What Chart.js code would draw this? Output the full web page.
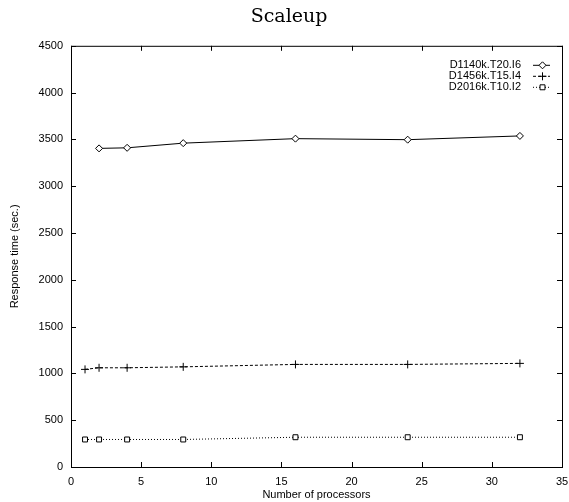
<!DOCTYPE html>
<html>
<head>
    <title>Scaleup</title>
    <script src="https://cdn.jsdelivr.net/npm/chart.js"></script>
    <style>
        body { margin: 0; background: #fff; }
        #wrap { width: 569px; height: 502px; }
    </style>
</head>
<body>
    <div id="wrap"><canvas id="scaleChart" width="569" height="502"></canvas></div>

    <script>
        // data
        const procs1 = [2, 4, 8, 16, 24, 32];
        const procs = [1, 2, 4, 8, 16, 24, 32];
        const d1140k = [3404, 3410, 3460, 3508, 3497, 3537];
        const d1456k = [1043, 1060, 1060, 1070, 1096, 1096, 1107];
        const d2016k = [294, 294, 294, 294, 318, 318, 318];
        const seriesNames = ['D1140k.T20.I6', 'D1456k.T15.I4', 'D2016k.T10.I2'];
        const xTicks = [0, 5, 10, 15, 20, 25, 30, 35];
        const yTicks = [0, 500, 1000, 1500, 2000, 2500, 3000, 3500, 4000, 4500];

        const pts = (xs, ys) => xs.map((x, i) => ({ x: x, y: ys[i] }));
        const sans = '"Liberation Sans", Arial, sans-serif';

        // gnuplot style box + inward ticks on all four sides
        const frame = {
            id: 'frame',
            afterDatasetsDraw(chart) {
                const { ctx, chartArea: a, scales } = chart;
                ctx.save();
                ctx.strokeStyle = '#000';
                ctx.lineWidth = 1;
                ctx.strokeRect(a.left + 0.5, a.top + 0.5, a.right - a.left, a.bottom - a.top);
                ctx.beginPath();
                xTicks.forEach(v => {
                    const px = Math.round(scales.x.getPixelForValue(v)) + 0.5;
                    ctx.moveTo(px, a.bottom); ctx.lineTo(px, a.bottom - 5);
                    ctx.moveTo(px, a.top); ctx.lineTo(px, a.top + 5);
                });
                yTicks.forEach(v => {
                    const py = Math.round(scales.y.getPixelForValue(v)) + 0.5;
                    ctx.moveTo(a.left, py); ctx.lineTo(a.left + 5, py);
                    ctx.moveTo(a.right, py); ctx.lineTo(a.right - 5, py);
                });
                ctx.stroke();
                ctx.restore();
            }
        };

        // legend: text on the left, line sample on the right
        const keyBox = {
            id: 'keyBox',
            afterDraw(chart) {
                const { ctx, chartArea: a } = chart;
                ctx.save();
                ctx.font = '11px ' + sans;
                ctx.textAlign = 'right';
                ctx.textBaseline = 'middle';
                chart.data.datasets.forEach((ds, i) => {
                    const y = a.top + 19 + i * 11;
                    ctx.fillStyle = '#000';
                    ctx.fillText(ds.label, a.right - 41, y);
                    const x0 = a.right - 29, x1 = a.right - 12;
                    ctx.strokeStyle = '#000';
                    ctx.lineWidth = 1;
                    ctx.setLineDash(ds.borderDash || []);
                    ctx.beginPath();
                    ctx.moveTo(x0, y + 0.5); ctx.lineTo(x1, y + 0.5);
                    ctx.stroke();
                    ctx.setLineDash([]);
                    ctx.fillStyle = '#fff';
                    Chart.helpers.drawPoint(ctx, {
                        pointStyle: ds.pointStyle, radius: ds.pointRadius, borderWidth: 1
                    }, Math.round((x0 + x1) / 2) + 0.5, y + 0.5);
                });
                ctx.restore();
            }
        };

        const common = {
            borderColor: '#000',
            borderWidth: 1,
            backgroundColor: '#fff',
            pointBorderColor: '#000',
            pointBackgroundColor: '#fff',
            pointBorderWidth: 1,
            showLine: true,
            tension: 0
        };

        new Chart(document.getElementById('scaleChart'), {
            type: 'scatter',
            data: {
                datasets: [
                    Object.assign({}, common, { label: seriesNames[0], data: pts(procs1, d1140k), pointStyle: 'rectRot', pointRadius: 3.5 }),
                    Object.assign({}, common, { label: seriesNames[1], data: pts(procs, d1456k), pointStyle: 'cross', pointRadius: 4, borderDash: [3, 2] }),
                    Object.assign({}, common, { label: seriesNames[2], data: pts(procs, d2016k), pointStyle: 'rect', pointRadius: 3.5, borderDash: [1, 2] })
                ]
            },
            plugins: [frame, keyBox],
            options: {
                responsive: false,
                animation: false,
                layout: { padding: { left: 16, right: 7, top: 0, bottom: 0 } },
                plugins: {
                    legend: { display: false },
                    tooltip: { enabled: false },
                    title: {
                        display: true,
                        text: 'Scaleup',
                        color: '#000',
                        font: { family: '"DejaVu Serif", "Liberation Serif", serif', size: 19, weight: 'normal' },
                        padding: { top: 6, bottom: 17 }
                    }
                },
                scales: {
                    x: {
                        type: 'linear', min: 0, max: 35,
                        afterBuildTicks: s => { s.ticks = xTicks.map(v => ({ value: v })); },
                        afterFit: s => { s.height = 35; s.paddingLeft = 0; s.paddingRight = 0; },
                        grid: { display: false, drawTicks: false },
                        border: { display: false },
                        ticks: { color: '#000', padding: 8, maxRotation: 0, callback: v => String(v), font: { family: sans, size: 11 } },
                        title: { display: true, text: 'Number of processors', color: '#000', padding: 0, font: { family: sans, size: 11 } }
                    },
                    y: {
                        type: 'linear', min: 0, max: 4500,
                        afterBuildTicks: s => { s.ticks = yTicks.map(v => ({ value: v })); },
                        afterFit: s => { s.width = 55; s.paddingTop = 0; s.paddingBottom = 0; },
                        grid: { display: false, drawTicks: false },
                        border: { display: false },
                        ticks: { color: '#000', padding: 8, callback: v => String(v), font: { family: sans, size: 11 } },
                        title: { display: true, text: 'Response time (sec.)', color: '#000', padding: { top: -8, bottom: 0 }, font: { family: sans, size: 11 } }
                    }
                }
            }
        });
    </script>
</body>
</html>
